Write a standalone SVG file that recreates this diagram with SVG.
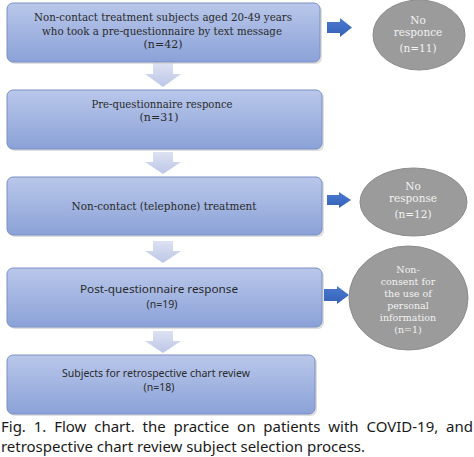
<svg xmlns="http://www.w3.org/2000/svg" width="474" height="457" viewBox="0 0 474 457">
<style>
.box{fill:url(#bg);stroke:#7b8fc4;stroke-width:1}
.sh{fill:#c9c9c9;opacity:0.6}
.t{font-family:"DejaVu Serif","Liberation Serif",serif;font-size:11px;fill:#2a2a2a;text-anchor:middle}
.s{font-family:"Noto Sans","Liberation Sans",sans-serif;font-size:10.5px;fill:#2a2a2a;text-anchor:middle}
.e{fill:#9b9b9b;stroke:#8c8c8c;stroke-width:1}
.et{font-family:"DejaVu Serif","Liberation Serif",serif;font-size:10.5px;fill:#f2f2f2;text-anchor:middle}
.et2{font-family:"DejaVu Serif","Liberation Serif",serif;font-size:9.5px;fill:#f2f2f2;text-anchor:middle}
.da{fill:url(#dg)}
.ra{fill:url(#rg)}
.cap{font-family:"Noto Sans","Liberation Sans",sans-serif;font-size:15px;fill:#1a1a1a}
</style>
<defs>
<linearGradient id="bg" x1="0" y1="0" x2="0" y2="1">
<stop offset="0" stop-color="#b9c7ea"/>
<stop offset="1" stop-color="#8ba2d8"/>
</linearGradient>
<linearGradient id="dg" x1="0" y1="0" x2="0" y2="1">
<stop offset="0" stop-color="#dde2f2"/>
<stop offset="1" stop-color="#bcc6e6"/>
</linearGradient>
<linearGradient id="rg" x1="0" y1="0" x2="0" y2="1">
<stop offset="0" stop-color="#4a78cc"/>
<stop offset="0.5" stop-color="#3f6ec6"/>
<stop offset="1" stop-color="#3560b4"/>
</linearGradient>
</defs>
<rect width="474" height="457" fill="#ffffff"/>

<g id="connectors">
<path class="da" d="M153,63 H173 V74 H181 L163,87 L145,74 H153 Z"/>
<path class="da" d="M153,152 H173 V162 H181 L163,174 L145,162 H153 Z"/>
<path class="da" d="M153,241 H173 V251 H181 L163,263 L145,251 H153 Z"/>
<path class="da" d="M153,331 H173 V341 H181 L163,353 L145,341 H153 Z"/>
<path class="ra" d="M327,22 H340 V18 L352,27.5 L340,37 V33 H327 Z"/>
<path class="ra" d="M327,195 H339 V192 L351,200 L339,208 V205 H327 Z"/>
<path class="ra" d="M324,289 H337 V286 L349,295 L337,304 V301 H324 Z"/>
</g>

<g id="n1">
<rect class="sh" x="9" y="5" width="313" height="59" rx="6"/>
<rect class="box" x="7" y="3" width="313" height="59" rx="6"/>
<text class="t" x="163" y="21" textLength="258" lengthAdjust="spacingAndGlyphs">Non-contact treatment subjects aged 20-49 years</text>
<text class="t" x="162" y="35" textLength="240" lengthAdjust="spacingAndGlyphs">who took a pre-questionnaire by text message</text>
<text class="t" x="163" y="48">(n=42)</text>
</g>

<g id="n2">
<rect class="sh" x="9" y="92" width="315" height="59" rx="6"/>
<rect class="box" x="7" y="90" width="315" height="59" rx="6"/>
<text class="t" x="162" y="108" textLength="141" lengthAdjust="spacingAndGlyphs">Pre-questionnaire responce</text>
<text class="t" x="159" y="121">(n=31)</text>
</g>

<g id="n3">
<rect class="sh" x="9" y="179" width="315" height="58" rx="6"/>
<rect class="box" x="7" y="177" width="315" height="58" rx="6"/>
<text class="t" x="164" y="210" textLength="185" lengthAdjust="spacingAndGlyphs">Non-contact (telephone) treatment</text>
</g>

<g id="n4">
<rect class="sh" x="9" y="270" width="315" height="59" rx="6"/>
<rect class="box" x="7" y="268" width="315" height="59" rx="6"/>
<text class="s" x="159" y="293" textLength="158" lengthAdjust="spacingAndGlyphs">Post-questionnaire response</text>
<text class="s" x="162" y="308">(n=19)</text>
</g>

<g id="n5">
<rect class="sh" x="9" y="357" width="308" height="59" rx="6"/>
<rect class="box" x="7" y="355" width="308" height="59" rx="6"/>
<text class="s" x="156" y="377" textLength="188" lengthAdjust="spacingAndGlyphs">Subjects for retrospective chart review</text>
<text class="s" x="159" y="391">(n=18)</text>
</g>

<g id="e1">
<ellipse class="e" cx="419" cy="35" rx="46" ry="35"/>
<text class="et" x="418" y="24">No</text>
<text class="et" x="418" y="36">responce</text>
<text class="et" x="418" y="52">(n=11)</text>
</g>

<g id="e2">
<ellipse class="e" cx="413.5" cy="202" rx="53.5" ry="34"/>
<text class="et" x="413" y="190">No</text>
<text class="et" x="413" y="202">response</text>
<text class="et" x="413" y="218">(n=12)</text>
</g>

<g id="e3">
<ellipse class="e" cx="408.5" cy="298" rx="59.5" ry="52"/>
<text class="et2" x="408" y="273">Non-</text>
<text class="et2" x="408" y="285">consent for</text>
<text class="et2" x="408" y="297">the use of</text>
<text class="et2" x="408" y="309">personal</text>
<text class="et2" x="408" y="321">information</text>
<text class="et2" x="408" y="333">(n=1)</text>
</g>

<g id="caption">
<text class="cap" x="1" y="432" textLength="472" lengthAdjust="spacing" style="word-spacing:4px">Fig. 1. Flow chart. the practice on patients with COVID-19, and</text>
<text class="cap" x="1" y="452" textLength="364" lengthAdjust="spacing">retrospective chart review subject selection process.</text>
</g>
</svg>
